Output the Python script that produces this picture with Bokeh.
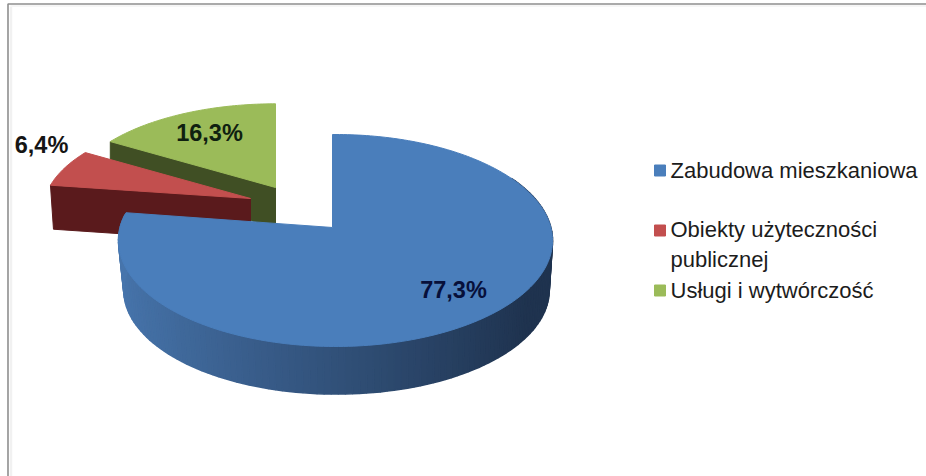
import numpy as np
from bokeh.core.properties import value
from bokeh.embed import file_html
from bokeh.models import Range1d
from bokeh.plotting import figure
from bokeh.resources import INLINE

categories = ["Zabudowa mieszkaniowa", "Obiekty użyteczności\npublicznej", "Usługi i wytwórczość"]
shares = [77.3, 6.4, 16.3]
top_colors = ["#4a7ebb", "#c24f4e", "#9bbb59"]
cut_colors = ["#2b4a70", "#5a1a1c", "#404f24"]

W, H = 926, 476
p = figure(width=W, height=H, output_backend="svg", toolbar_location=None,
           x_range=Range1d(0, W), y_range=Range1d(H, 0), min_border=0)
p.styles = {"position": "absolute", "left": "0px", "top": "0px"}
p.axis.visible = False
p.grid.visible = False
p.outline_line_color = None
p.background_fill_color = "#ffffff"

# chart frame
p.line([7.5, 7.5, W], [H, 3.5, 3.5], line_color="#8e8e8e", line_width=1.6)
p.line([10.5, 10.5], [H, 6], line_color="#f1f1f1", line_width=2.5)
p.line([10, W], [5.5, 5.5], line_color="#f6f6f6", line_width=2)

# perspective projection of the unit disc
PERSP, WX, HY = 0.1226, 215.4, 104.4


def rim(theta, x0, y0, sx=1.0, sy=1.0):
    u, v = np.sin(theta), -np.cos(theta)
    k = 1 / (1 - PERSP * v)
    return x0 + sx * WX * u * k, y0 + sy * HY * v * k


def mix(a, b, t):
    ca = [int(a[i:i + 2], 16) for i in (1, 3, 5)]
    cb = [int(b[i:i + 2], 16) for i in (1, 3, 5)]
    return "#" + "".join(f"{round(x + (y - x) * t):02x}" for x, y in zip(ca, cb))


cum = np.cumsum([0] + shares) / sum(shares) * 2 * np.pi
starts, ends = cum[:-1], cum[1:]

# green slice (exploded)
tg = np.linspace(starts[2], ends[2], 60)
gx, gy = rim(tg, 275, 187, 0.955, 0.9)
gd = 40
p.patch([275, gx[0], gx[0], 275], [187, gy[0], gy[0] + gd, 187 + gd], color=cut_colors[2])
p.patch([275, *gx], [187, *gy], color=top_colors[2])

# red slice (exploded)
tr = np.linspace(starts[1], ends[1], 40)
rx, ry = rim(tr, 250, 198, 0.955, 0.9)
rd = 44
p.patch([250, rx[0], rx[0] + 3, 250], [198, ry[0], ry[0] + rd, 198 + rd], color=cut_colors[1])
p.patch([250, *rx], [198, *ry], color=top_colors[1])

# blue slice: side wall, one strip per step, then top face
X0, Y0 = 335, 227
edges = np.linspace(np.radians(60), ends[0] - np.radians(1), 130)
for i in range(len(edges) - 1):
    a = edges[i:i + 2]
    x1, y1 = rim(a, X0, Y0)
    x2, y2 = rim(a, X0 + 1, Y0 + 50, 0.98, 0.98)
    t = (np.sin(a.mean()) + 1) / 2
    col = mix("#4775ac", "#1f334f", min(1, t * 1.1))
    p.patch([*x1, *x2[::-1]], [*y1, *y2[::-1]], color=col, line_width=1.5)

tb = np.linspace(starts[0], ends[0], 240)
bx, by = rim(tb, X0, Y0)
bx[0] = X0 - 3
p.patch([X0 - 3, *bx], [Y0, *by], color=top_colors[0])

# data labels
labels = [f"{v:.1f}".replace(".", ",") + "%" for v in shares]
p.text([453, 41, 209], [289, 144, 132], text=labels, text_font=value("Liberation Sans"),
       text_font_style="bold", text_font_size="23.5px", text_align="center", text_baseline="middle",
       text_color=["#07103a", "#151515", "#0f2010"])

# legend
p.scatter([659.5] * 3, [170, 230, 290], marker="square", size=11, color=top_colors)
p.text([670, 670, 670], [170, 244, 290], text=categories, text_font=value("Liberation Sans"),
       text_font_size="22px", text_align="left", text_baseline="middle", text_color="#1c1c1c",
       text_line_height=1.18)

open("out.html", "w").write(file_html(p, INLINE))
